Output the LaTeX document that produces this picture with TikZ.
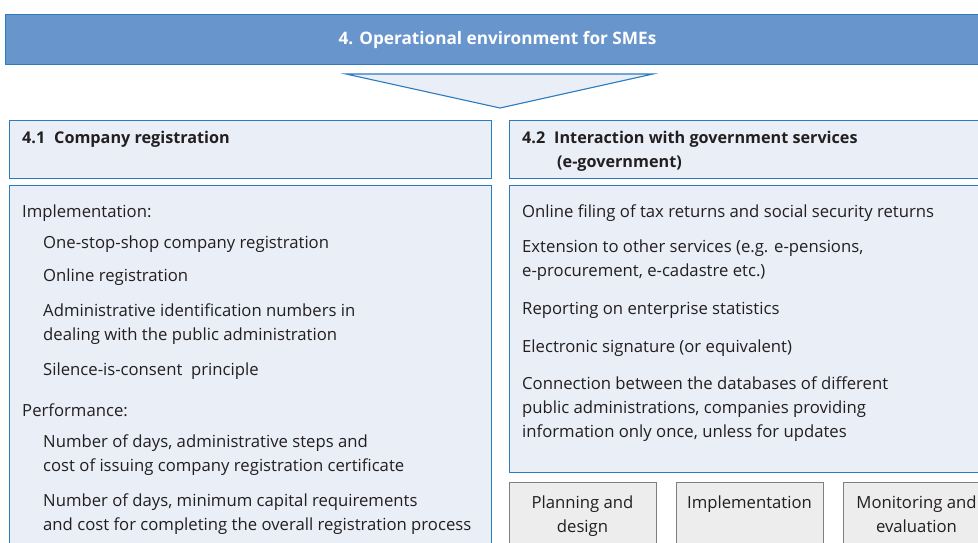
\documentclass[tikz,border=0pt]{standalone}
\usepackage{fontspec}
\setmainfont{Open Sans}
\definecolor{barfill}{HTML}{6895CC}
\definecolor{bordblue}{HTML}{2B7BBF}
\definecolor{lightfill}{HTML}{E9EEF7}
\definecolor{grayfill}{HTML}{EDEDED}
\definecolor{graybord}{HTML}{7F7F7F}
\definecolor{txtgray}{HTML}{231F20}
\begin{document}
\begin{tikzpicture}[x=1pt,y=-1pt,
  topbar/.style={draw=bordblue, fill=barfill, line width=1.1pt, anchor=north west, inner sep=0pt},
  bluebox/.style={draw=bordblue, fill=lightfill, line width=1.1pt, anchor=north west, inner sep=0pt},
  graybox/.style={draw=graybord, fill=grayfill, line width=0.9pt, anchor=north west, inner sep=0pt},
  txt/.style={anchor=base west, inner sep=0pt, text=txtgray, font=\fontsize{16.7}{24}\selectfont},
  hdtxt/.style={anchor=base west, inner sep=0pt, text=txtgray, font=\fontsize{16.2}{24}\selectfont\bfseries},
  ctxt/.style={anchor=base, inner sep=0pt, text=txtgray, font=\fontsize{16.7}{24}\selectfont}]
\useasboundingbox (0,0) rectangle (978,542);
\clip (0,0) rectangle (978,542);
% top bar
\node[topbar, minimum width=985pt, minimum height=50pt] (bar) at (5,14) {};
\node[anchor=base, inner sep=0pt, text=white, font=\fontsize{17.2}{20}\selectfont\bfseries] (bartxt) at (497.5,44.5) {4. Operational environment for SMEs};
% triangle
\coordinate (tl) at (346,74);
\coordinate (tr) at (653,74);
\coordinate (tb) at (500,108);
\draw[draw=bordblue, fill=lightfill, line width=1.1pt, line join=miter] (tl) -- (tr) -- (tb) -- cycle;
% header boxes
\node[bluebox, minimum width=482pt, minimum height=58pt] (h1) at (9,120) {};
\node[bluebox, minimum width=482pt, minimum height=58pt] (h2) at (509,120) {};
\node[hdtxt] (h1t) at (22,143) {4.1\hspace{0.55em}Company registration};
\node[hdtxt] (h2t) at (522,143) {4.2\hspace{0.55em}Interaction with government services};
\node[hdtxt] (h2u) at (557,167) {(e-government)};
% body boxes
\node[bluebox, minimum width=482pt, minimum height=370pt] (b1) at (9,185) {};
\node[bluebox, minimum width=482pt, minimum height=287pt] (b2) at (509,185) {};
% left texts
\node[txt] (l1) at (22,217) {Implementation:};
\node[txt] (l2) at (43,248) {One-stop-shop company registration};
\node[txt] (l3) at (43,281) {Online registration};
\node[txt] (l4) at (43,316) {Administrative identification numbers in};
\node[txt] (l5) at (43,340) {dealing with the public administration};
\node[txt] (l6) at (43,375) {Silence-is-consent\ \ principle};
\node[txt] (l7) at (22,416) {Performance:};
\node[txt] (l8) at (43,447) {Number of days, administrative steps and};
\node[txt] (l9) at (43,471) {cost of issuing company registration certificate};
\node[txt] (l10) at (43,506) {Number of days, minimum capital requirements};
\node[txt] (l11) at (43,530) {and cost for completing the overall registration process};
% right texts
\node[txt] (r1) at (522,217) {Online filing of tax returns and social security returns};
\node[txt] (r2) at (522,252) {Extension to other services (e.g. e-pensions,};
\node[txt] (r3) at (522,276) {e-procurement, e-cadastre etc.)};
\node[txt] (r4) at (522,314) {Reporting on enterprise statistics};
\node[txt] (r5) at (522,352) {Electronic signature (or equivalent)};
\node[txt] (r6) at (522,389) {Connection between the databases of different};
\node[txt] (r7) at (522,413) {public administrations, companies providing};
\node[txt] (r8) at (522,437) {information only once, unless for updates};
% gray boxes
\node[graybox, minimum width=147pt, minimum height=70pt] (g1) at (509,482) {};
\node[graybox, minimum width=147pt, minimum height=70pt] (g2) at (676,482) {};
\node[graybox, minimum width=147pt, minimum height=70pt] (g3) at (843,482) {};
\node[ctxt] (g1a) at (582.5,508) {Planning and};
\node[ctxt] (g1b) at (582.5,532) {design};
\node[ctxt] (g2a) at (749.5,508) {Implementation};
\node[ctxt] (g3a) at (916.5,508) {Monitoring and};
\node[ctxt] (g3b) at (916.5,532) {evaluation};
\end{tikzpicture}
\end{document}
